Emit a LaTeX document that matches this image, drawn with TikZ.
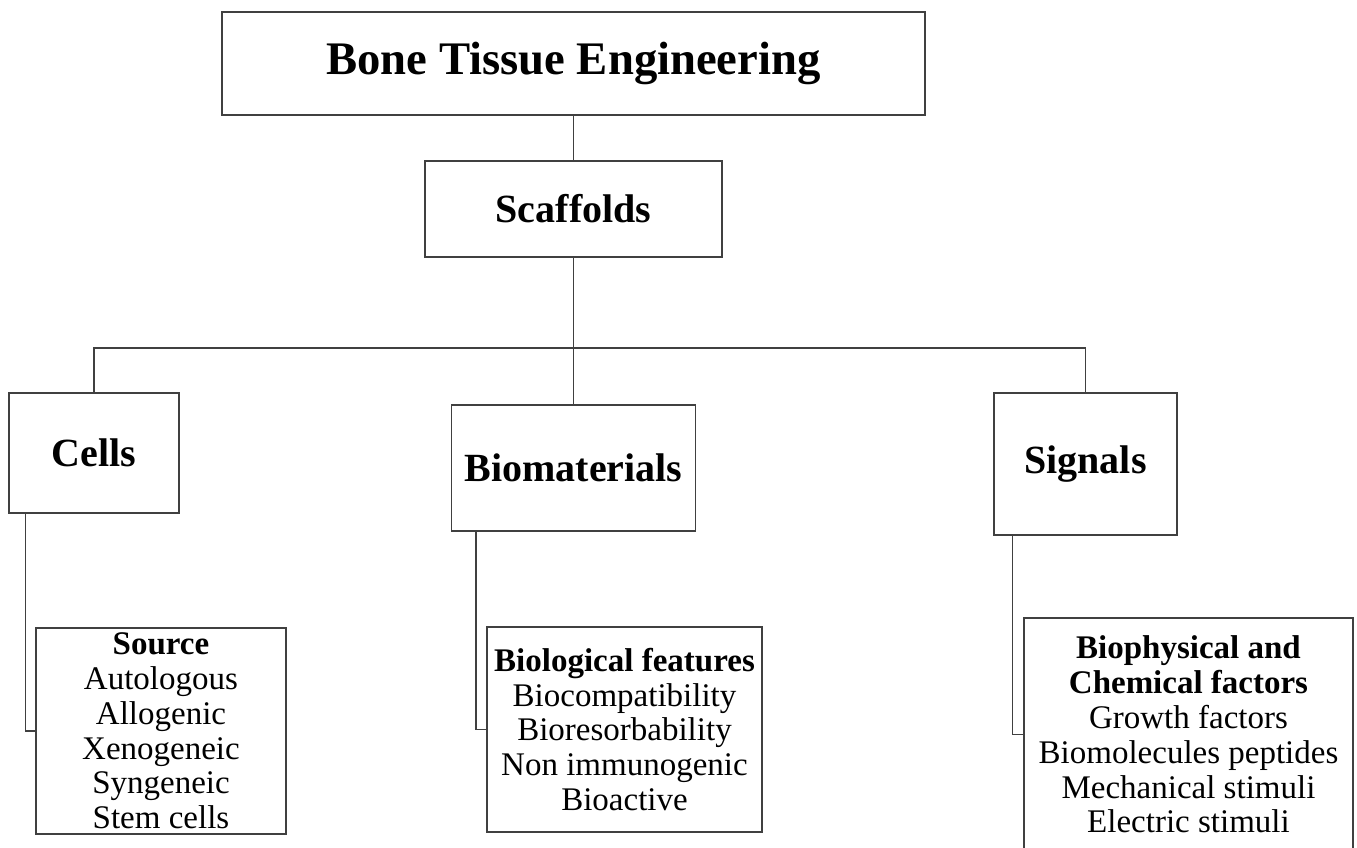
\documentclass[tikz,border=0pt]{standalone}
\usepackage{fontspec}
\setmainfont{Liberation Serif}
\definecolor{linegray}{HTML}{404040}
\begin{document}
\begin{tikzpicture}[x=0.75pt,y=-0.75pt,
  box/.style={draw=linegray,line width=1pt,inner sep=0pt,align=center},
  conn/.style={draw=linegray,line width=1pt},
  bigfont/.style={font=\fontsize{35}{40}\selectfont\bfseries},
  midfont/.style={font=\fontsize{30}{34}\selectfont\bfseries},
  smallfont/.style={font=\fontsize{24.75}{26.1}\selectfont}]
\useasboundingbox (0,0) rectangle (1357,847);
\node[box,bigfont,minimum width=527.25pt,minimum height=77.25pt] (title) at (573.5,63.5) {\raisebox{-2.5pt}{Bone Tissue Engineering}};
\node[box,midfont,minimum width=222.75pt,minimum height=72pt] (scaf) at (573.5,209) {Scaffolds};
\node[box,midfont,minimum width=127.5pt,minimum height=90pt] (cells) at (94,453) {Cells};
\node[box,midfont,minimum width=183pt,minimum height=94.5pt] (bio) at (573.5,468) {Biomaterials};
\node[box,midfont,minimum width=137.25pt,minimum height=106.5pt] (sig) at (1085.5,464) {\raisebox{-2pt}{Signals}};
\node[box,smallfont,minimum width=187.5pt,minimum height=154.5pt] (src) at (161,731) {\textbf{Source}\\Autologous\\Allogenic\\Xenogeneic\\Syngeneic\\Stem cells};
\node[box,smallfont,minimum width=206.25pt,minimum height=153.75pt] (feat) at (624.5,729.5) {\textbf{Biological features}\\Biocompatibility\\Bioresorbability\\Non immunogenic\\Bioactive};
\node[box,smallfont,minimum width=246.75pt,minimum height=174.75pt] (fact) at (1188.5,734.5) {\textbf{Biophysical and}\\\textbf{Chemical factors}\\Growth factors\\Biomolecules peptides\\Mechanical stimuli\\Electric stimuli};
\coordinate (j) at (573.5,348);
\draw[conn] (title.south) -- (scaf.north);
\draw[conn] (scaf.south) -- (j);
\draw[conn] (cells.north) |- (j) -| (sig.north);
\draw[conn] (j) -- (bio.north);
\draw[conn] ([xshift=12.75pt]cells.south west) |- (src.west);
\draw[conn] ([xshift=18.75pt]bio.south west) |- (feat.west);
\draw[conn] ([xshift=14.25pt]sig.south west) |- (fact.west);
\end{tikzpicture}
\end{document}
